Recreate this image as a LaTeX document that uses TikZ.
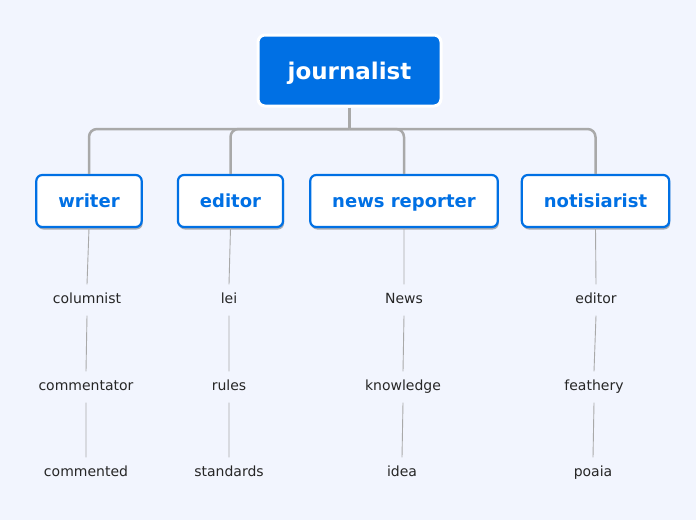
\documentclass[tikz,border=0pt]{standalone}
\usepackage{fontspec}
\setmainfont{DejaVu Sans}
\usetikzlibrary{shadows}
\definecolor{azul}{HTML}{0070E4}
\definecolor{fundo}{HTML}{F2F5FE}
\definecolor{linha}{HTML}{A9A9A9}
\begin{document}
\begin{tikzpicture}[x=1pt,y=-1pt,
  raiz/.style={fill=azul,draw=white,line width=3pt,rounded corners=7pt,
    minimum width=183pt,minimum height=71pt,text=white,
    text height=20pt,text depth=2pt,
    font=\fontsize{23}{27}\selectfont\bfseries},
  ramo/.style={fill=white,draw=azul,line width=2.2pt,rounded corners=6pt,
    minimum height=52pt,inner xsep=22pt,text=azul,
    text height=15pt,text depth=3pt,
    font=\fontsize{18}{22}\selectfont\bfseries,
    drop shadow={shadow xshift=1pt,shadow yshift=-2.5pt,opacity=0.3,fill=black}},
  folha/.style={font=\fontsize{14}{17}\selectfont,text=black!85,
    text height=10pt,text depth=3pt,inner ysep=9pt},
  liga/.style={draw=linha,line width=2.5pt,rounded corners=8pt},
  fina/.style={draw=linha,line width=0.9pt}]
  % fundo e margens
  \fill[fundo] (0,0) rectangle (696,520);
  \useasboundingbox (0,0) rectangle (696,520);
  % tema central
  \node[raiz] (raiz) at (349.5,70.5) {journalist};
  \coordinate (barra) at (349.5,129);
  % ramos principais
  \foreach \i/\x/\txt in {1/89/writer, 2/230.5/editor,
      3/404/news reporter, 4/595.5/notisiarist}
    \node[ramo] (b\i) at (\x,201) {\txt};
  \draw[liga] (raiz.south) -- (barra);
  \foreach \i in {1,...,4}
    \draw[liga] (barra) -| (b\i.north);
  % folhas de cada ramo
  \foreach \i/\j/\x/\y/\txt in {
      1/1/87/300/columnist, 1/2/86/387/commentator, 1/3/86/473/commented,
      2/1/229/300/lei, 2/2/229/387/rules, 2/3/229/473/standards,
      3/1/404/300/News, 3/2/403/387/knowledge, 3/3/402/473/idea,
      4/1/596/300/editor, 4/2/594/387/feathery, 4/3/593/473/poaia}
    \node[folha] (f\i\j) at (\x,\y) {\txt};
  \foreach \i in {1,...,4}
    \draw[fina] (b\i.south) -- (f\i1.north)
                (f\i1.south) -- (f\i2.north)
                (f\i2.south) -- (f\i3.north);
\end{tikzpicture}
\end{document}
